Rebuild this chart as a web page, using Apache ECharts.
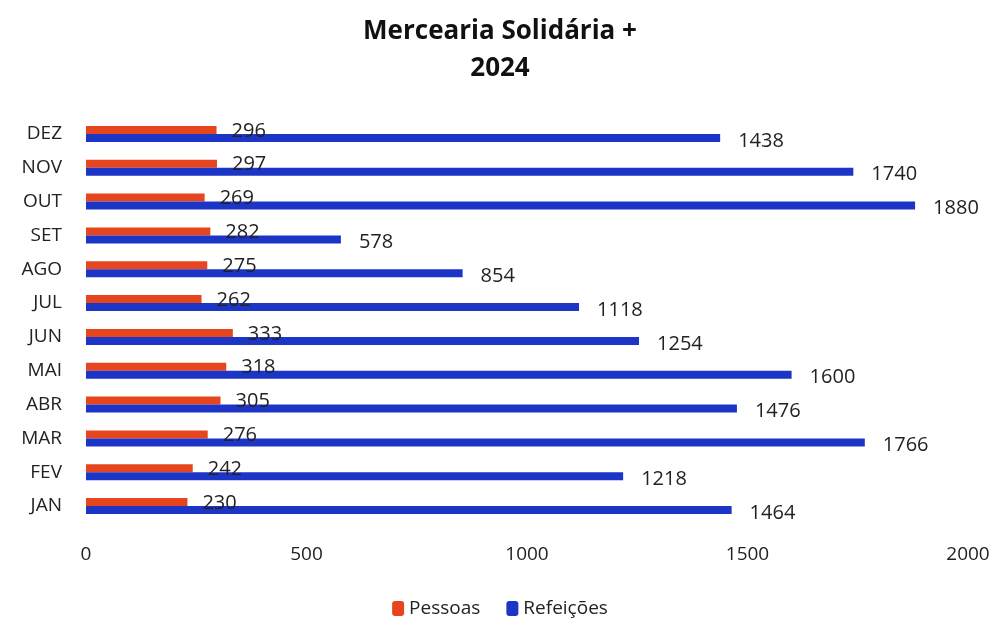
<!DOCTYPE html>
<html><head><meta charset="utf-8">
<script src="https://cdn.jsdelivr.net/npm/echarts@6/dist/echarts.min.js"></script>
<style>html,body{margin:0;padding:0;background:#fff}#c{width:1000px;height:625px}</style>
</head><body><div id="c"></div>
<script>
const categories = ['JAN','FEV','MAR','ABR','MAI','JUN','JUL','AGO','SET','OUT','NOV','DEZ'];
const pessoas = [230,242,276,305,318,333,262,275,282,269,297,296];
const refeicoes = [1464,1218,1766,1476,1600,1254,1118,854,578,1880,1740,1438];
const xTicks = [0,500,1000,1500,2000];

const font = 'Open Sans';
const chart = echarts.init(document.getElementById('c'));
chart.setOption({
  animation:false,
  backgroundColor:'#fff',
  title:{text:'Mercearia Solidária +\n2024', left:'center', top:8,
    textStyle:{fontFamily:font, fontWeight:'bold', fontSize:26, color:'#111', lineHeight:37}},
  legend:{data:['Pessoas','Refeições'], bottom:2, left:'center', itemWidth:12, itemHeight:15, itemGap:26,
    textStyle:{fontFamily:font, fontSize:19, color:'#222'}},
  grid:{left:86, right:32, top:117, bottom:102},
  xAxis:{type:'value', min:xTicks[0], max:xTicks[xTicks.length-1], interval:500,
    axisLine:{show:false}, axisTick:{show:false}, splitLine:{show:false},
    axisLabel:{fontFamily:font, fontSize:19, color:'#222', margin:22, formatter:v=>String(v)}},
  yAxis:{type:'category', data:categories,
    axisLine:{show:false}, axisTick:{show:false},
    axisLabel:{fontFamily:font, fontSize:19, color:'#222', margin:24}},
  series:[
    {name:'Pessoas', type:'bar', data:pessoas, barWidth:8, barGap:'0%',
      itemStyle:{color:'#e6451d'},
      label:{show:true, position:'right', distance:15, offset:[0,1], fontFamily:font, fontSize:20, color:'#222'}},
    {name:'Refeições', type:'bar', data:refeicoes, barWidth:8, barGap:'0%',
      itemStyle:{color:'#1d35c6'},
      label:{show:true, position:'right', distance:18, offset:[0,3], fontFamily:font, fontSize:20, color:'#222'}}
  ]
});
</script></body></html>
